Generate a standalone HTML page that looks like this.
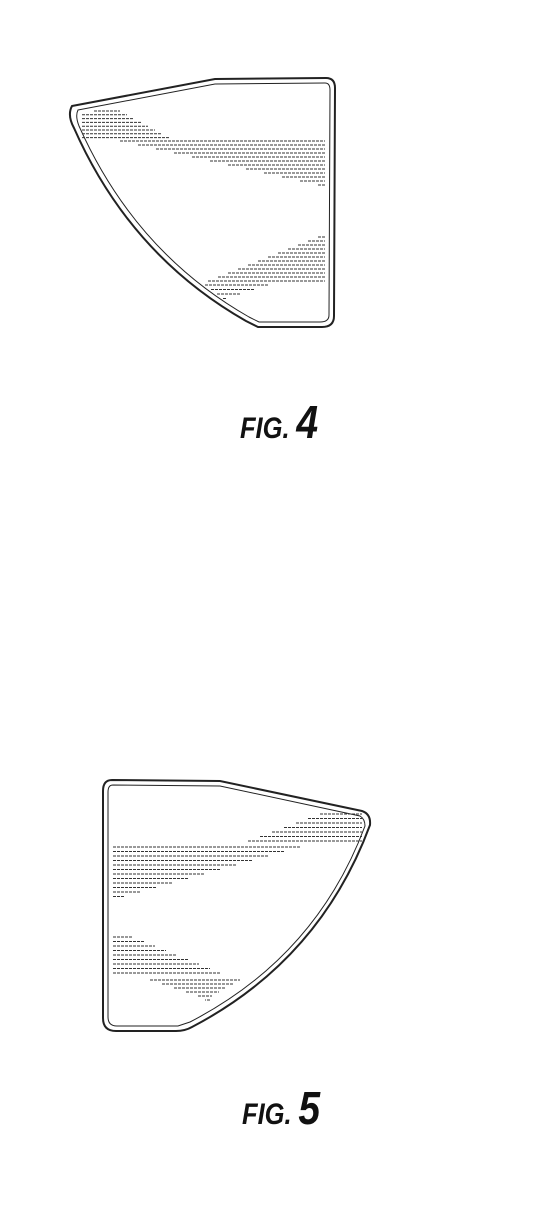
<!DOCTYPE html>
<html><head><meta charset="utf-8"><style>
html,body{margin:0;padding:0;background:#fff;}
svg{display:block;}
</style></head><body>
<svg id="s" width="553" height="1213" viewBox="0 0 553 1213" xmlns="http://www.w3.org/2000/svg">
<g fill="none" stroke="#222">
<path d="M72,106 L215,79 L326,78 Q335,78 335,88 L334,316 Q334,327 322,327 L258,327 L246,321 Q130,255 74,128 Q67,115 72,106 Z" stroke-width="2"/>
<path d="M78,110 L215,84 L325,83 Q330,83 330,90 L329,315 Q329,322 320,322 L259,322 L249,317 Q135,252 79,126 Q75,116 78,110 Z" stroke-width="1"/>
</g>
<g fill="none" stroke="#222">
<path d="M112,780 L220,781 L362,811 Q371,814 370,825 Q320,960 192,1027 Q185,1031 176,1031 L116,1031 Q103,1031 103,1018 L103,791 Q103,780 112,780 Z" stroke-width="2"/>
<path d="M113,785 L220,786 L360,816 Q365,819 365,826 Q316,957 190,1022 L178,1026 L117,1026 Q108,1026 108,1017 L108,792 Q108,785 113,785 Z" stroke-width="1"/>
</g>
<g id="h4" stroke="#333" stroke-width="1" stroke-dasharray="3,1"></g>
<g id="h5" stroke="#333" stroke-width="1" stroke-dasharray="3,1"></g>
<text x="240" y="438" transform="translate(240,438) scale(0.85,1) translate(-240,-438)" font-family="Liberation Sans, sans-serif" font-style="italic" font-weight="bold" font-size="30" fill="#111">FIG.<tspan font-size="46" dx="8">4</tspan></text>
<text x="242" y="1124" transform="translate(242,1124) scale(0.85,1) translate(-242,-1124)" font-family="Liberation Sans, sans-serif" font-style="italic" font-weight="bold" font-size="30" fill="#111">FIG.<tspan font-size="46" dx="8">5</tspan></text>
</svg>
<script>
function hatch(id,lines){
  var g=document.getElementById(id);
  lines.forEach(function(l){
    var e=document.createElementNS('http://www.w3.org/2000/svg','line');
    e.setAttribute('x1',l[0]);e.setAttribute('x2',l[1]);e.setAttribute('y1',l[2]);e.setAttribute('y2',l[2]);
    
    
    g.appendChild(e);
  });
}
var a=[];
for(var i=0;i<8;i++){a.push([82+(i==0?12:0),120+i*7,111+i*3.8]);}
for(var i=0;i<12;i++){a.push([120+i*18,325,141+i*4]);}
for(var i=0;i<12;i++){a.push([318-i*10,325,237+i*4]);}
for(var i=0;i<4;i++){a.push([205+i*6,268-i*14,285+i*4.5]);}
hatch('h4',a);
var b=[];
for(var i=0;i<7;i++){b.push([320-i*12,362,814+i*4.5]);}
for(var i=0;i<12;i++){b.push([113,300-i*16,847+i*4.5]);}
for(var i=0;i<9;i++){b.push([113,133+i*11,937+i*4.5]);}
for(var i=0;i<6;i++){b.push([150+i*12,240-i*7,980+i*4]);}
hatch('h5',b);
</script>
</body></html>
